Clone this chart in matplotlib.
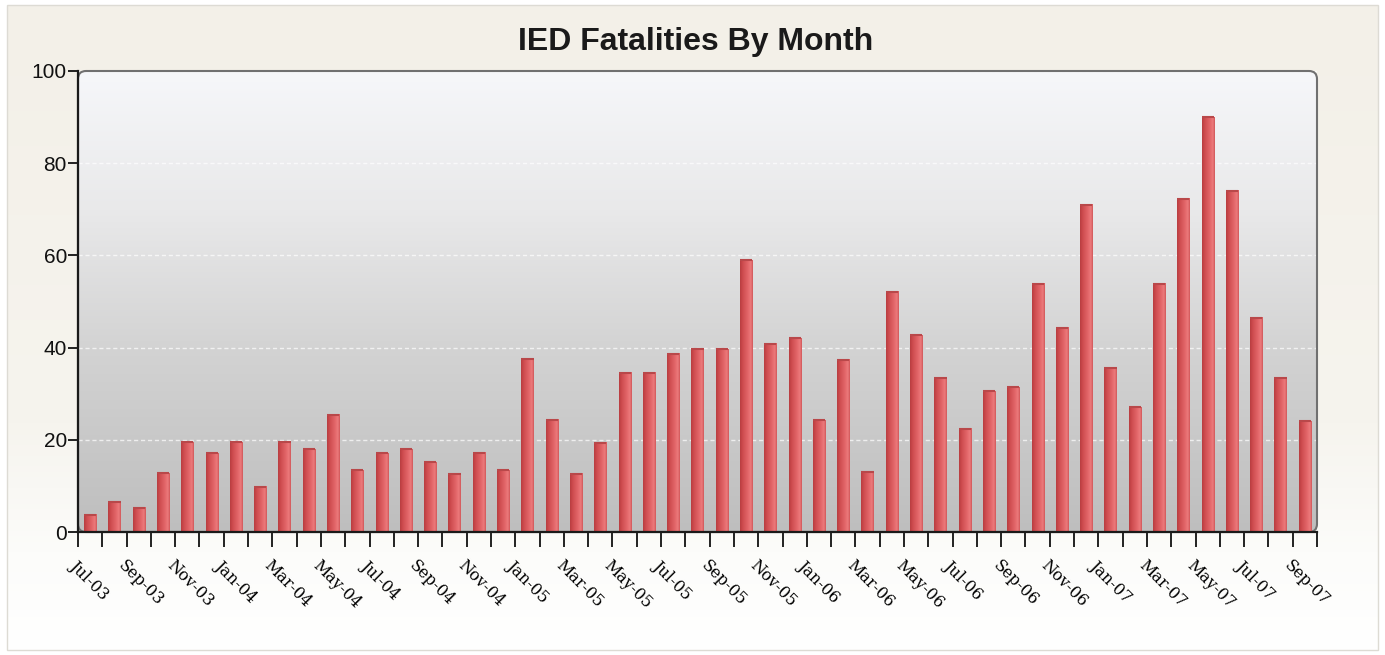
import numpy as np
import matplotlib
matplotlib.use('Agg')
import matplotlib.pyplot as plt
from matplotlib.colors import LinearSegmentedColormap
from matplotlib.patches import FancyBboxPatch, Rectangle

# ---------------- data ----------------
months = ['Jul-03', 'Aug-03', 'Sep-03', 'Oct-03', 'Nov-03', 'Dec-03',
          'Jan-04', 'Feb-04', 'Mar-04', 'Apr-04', 'May-04', 'Jun-04',
          'Jul-04', 'Aug-04', 'Sep-04', 'Oct-04', 'Nov-04', 'Dec-04',
          'Jan-05', 'Feb-05', 'Mar-05', 'Apr-05', 'May-05', 'Jun-05',
          'Jul-05', 'Aug-05', 'Sep-05', 'Oct-05', 'Nov-05', 'Dec-05',
          'Jan-06', 'Feb-06', 'Mar-06', 'Apr-06', 'May-06', 'Jun-06',
          'Jul-06', 'Aug-06', 'Sep-06', 'Oct-06', 'Nov-06', 'Dec-06',
          'Jan-07', 'Feb-07', 'Mar-07', 'Apr-07', 'May-07', 'Jun-07',
          'Jul-07', 'Aug-07', 'Sep-07']
fatalities = [3.7, 6.5, 5.3, 12.7, 19.5, 17.1,
              19.5, 9.8, 19.5, 18.0, 25.4, 13.4,
              17.1, 18.0, 15.1, 12.6, 17.2, 13.4,
              37.5, 24.3, 12.6, 19.4, 34.5, 34.5,
              38.7, 39.6, 39.6, 59.0, 40.8, 42.0,
              24.2, 37.4, 13.1, 52.1, 42.7, 33.5,
              22.4, 30.5, 31.4, 53.8, 44.3, 71.0,
              35.5, 27.1, 53.8, 72.3, 90.0, 74.0,
              46.5, 33.5, 24.0]
tick_labels = months[::2]
y_ticks = [0, 20, 40, 60, 80, 100]
title = "IED Fatalities By Month"

# ---------------- figure ----------------
W, H = 1385, 655
fig = plt.figure(figsize=(W / 100, H / 100), dpi=100)
fig.patch.set_facecolor('white')

# outer panel with soft cream-to-white gradient
bg = fig.add_axes([0, 0, 1, 1], zorder=-5)
bg.axis('off')
panel_cmap = LinearSegmentedColormap.from_list(
    'panel', [(0, '#f3f0e8'), (0.65, '#f6f4ee'), (0.85, '#fcfcfa'), (1, '#ffffff')])
bg.imshow(np.linspace(0, 1, 256)[:, None], cmap=panel_cmap,
          extent=[7, 1378, 650, 5], aspect='auto')
bg.add_patch(Rectangle((7, 5), 1371, 645, fill=False, ec='#dddbd4', lw=1))
bg.set_xlim(0, W)
bg.set_ylim(H, 0)

# main plot axes
ax = fig.add_axes([78 / W, 1 - 532 / H, (1317 - 78) / W, (532 - 71) / H])
ax.set_facecolor('none')
x = np.arange(len(months))

frame = FancyBboxPatch((0, 0), 1, 1,
                       boxstyle='round,pad=0,rounding_size=0.0065',
                       mutation_aspect=2.69, transform=ax.transAxes,
                       fc='none', ec='#707070', lw=1.5, zorder=1.5, clip_on=False)
ax.add_patch(frame)

plot_cmap = LinearSegmentedColormap.from_list(
    'plotbg', [(0, '#bebebe'), (0.4, '#d3d3d3'), (0.7, '#e9e9ea'), (1, '#f6f7fa')])
im = ax.imshow(np.linspace(0, 1, 256)[:, None], cmap=plot_cmap,
               extent=[-0.5, len(months) - 0.5, 0, 100], origin='lower',
               aspect='auto', zorder=0)
im.set_clip_path(frame)

ax.set_axisbelow(True)
ax.yaxis.grid(True, color='white', lw=1.0, linestyle=(0, (3, 2)), alpha=0.7)

# bars with cylinder-like shading
bars = ax.bar(x, fatalities, width=0.5, color='#d9534f', zorder=2)
bar_cmap = LinearSegmentedColormap.from_list(
    'bar', [(0, '#b83d40'), (0.2, '#cd4b4e'), (0.6, '#e26568'),
            (0.85, '#ec7a7c'), (1, '#d05759')])
hgrad = np.linspace(0, 1, 64)[None, :]
for b in bars:
    x0, w, h = b.get_x(), b.get_width(), b.get_height()
    ax.imshow(hgrad, cmap=bar_cmap, extent=[x0, x0 + w, 0, h],
              aspect='auto', zorder=2.1, interpolation='bilinear')
    ax.plot([x0, x0 + w], [h, h], color='#b9484a', lw=1.5, zorder=2.2,
            solid_capstyle='butt')

ax.set_xlim(-0.5, len(months) - 0.5)
ax.set_ylim(0, 100)

# spines
ax.spines['top'].set_visible(False)
ax.spines['right'].set_visible(False)
for s in ('left', 'bottom'):
    ax.spines[s].set_color('#1a1a1a')
    ax.spines[s].set_linewidth(1.6)
    ax.spines[s].set_zorder(3)

# ticks
ax.set_xticks(x[::2] - 0.5, tick_labels)
ax.set_xticks(np.append(x[1::2] - 0.5, x[-1] + 0.5), minor=True)
ax.tick_params(axis='x', which='both', direction='out', length=11, width=1.3,
               color='#111111', pad=7)
for lbl in ax.get_xticklabels():
    lbl.set_rotation(-45)
    lbl.set_ha('left')
    lbl.set_va('top')
    lbl.set_rotation_mode('anchor')
    lbl.set_fontfamily('DejaVu Serif')
    lbl.set_fontsize(11.5)
    lbl.set_color('#000000')

ax.set_yticks(y_ticks)
ax.tick_params(axis='y', direction='out', length=7, width=1.3, color='#111111',
               pad=1, labelsize=15)
for lbl in ax.get_yticklabels():
    lbl.set_fontfamily('Liberation Sans')
    lbl.set_color('#111111')

fig.text(696 / W, 1 - 50 / H, title, ha='center', va='baseline',
         fontsize=23, fontweight='bold', family='Liberation Sans',
         color='#1a1a1a')

fig.savefig('out.png', dpi=100)
